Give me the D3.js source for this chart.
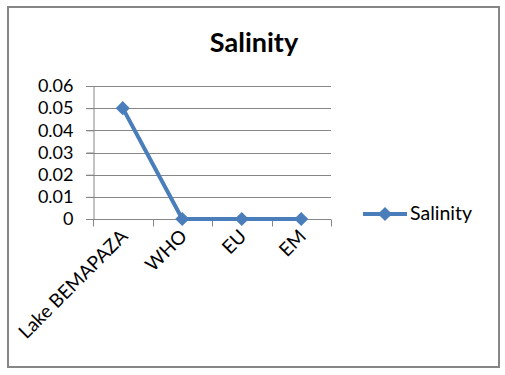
<!DOCTYPE html>
<html>
<head>
<meta charset="utf-8">
<script src="https://cdn.jsdelivr.net/npm/d3@7"></script>
<style>
  body { margin: 0; background: #fff; }
  text { font-family: Lato, "Open Sans", sans-serif; }
</style>
</head>
<body>
<div id="chart"></div>
<script>
// Data
const categories = ["Lake BEMAPAZA", "WHO", "EU", "EM"];
const salinity = [0.05, 0, 0, 0];
const yTicks = [0, 0.01, 0.02, 0.03, 0.04, 0.05, 0.06];
const seriesName = "Salinity";

const width = 505;
const height = 375;
const plot = { left: 93, right: 331, top: 86, bottom: 219 };
const blue = "#4a7ebb";
const gridColor = "#868686";

const svg = d3
  .select("#chart")
  .append("svg")
  .attr("width", width)
  .attr("height", height);

// Outer frame
svg.append("rect")
  .attr("x", 8).attr("y", 7)
  .attr("width", 491).attr("height", 360)
  .attr("fill", "#fff")
  .attr("stroke", "#868686")
  .attr("stroke-width", 2);

// Scales
const x = d3.scaleBand()
  .domain(categories)
  .range([plot.left, plot.right]);

const y = d3.scaleLinear()
  .domain([0, 0.06])
  .range([plot.bottom, plot.top]);

// Gridlines
svg.append("g")
  .selectAll("line")
  .data(yTicks)
  .enter()
  .append("line")
  .attr("x1", plot.left - 7)
  .attr("x2", plot.right)
  .attr("y1", (d) => Math.round(y(d)) + 0.5)
  .attr("y2", (d) => Math.round(y(d)) + 0.5)
  .attr("stroke", gridColor)
  .attr("stroke-width", 1);

// Y axis
const yAxis = svg.append("g")
  .attr("transform", `translate(${plot.left + 0.5},0)`)
  .call(d3.axisLeft(y).tickValues(yTicks).tickSize(7).tickPadding(13)
    .tickFormat((d) => (d === 0 ? "0" : d3.format(".2f")(d))));
yAxis.select(".domain").attr("stroke", gridColor);
yAxis.selectAll(".tick line").attr("stroke", gridColor);
yAxis.selectAll("text")
  .style("font-size", "18px")
  .attr("fill", "#000");

// X axis (ticks between categories)
const xAxis = svg.append("g")
  .attr("transform", `translate(0,${Math.round(plot.bottom) + 0.5})`);
xAxis.append("line")
  .attr("x1", plot.left).attr("x2", plot.right)
  .attr("stroke", gridColor);
xAxis.selectAll("line.tk")
  .data([...categories.map((c) => x(c)), plot.right])
  .enter()
  .append("line")
  .attr("class", "tk")
  .attr("x1", (d) => Math.round(d) + 0.5)
  .attr("x2", (d) => Math.round(d) + 0.5)
  .attr("y1", 0).attr("y2", 7)
  .attr("stroke", gridColor);
xAxis.selectAll("text")
  .data(categories)
  .enter()
  .append("text")
  .attr("transform", (d) => `translate(${x(d) + x.bandwidth() / 2 + 6},${18}) rotate(-45)`)
  .attr("text-anchor", "end")
  .style("font-size", "19px")
  .attr("fill", "#000")
  .text((d) => d);

// Line
const line = d3.line()
  .x((d, i) => x(categories[i]) + x.bandwidth() / 2)
  .y((d) => y(d));

svg.append("path")
  .datum(salinity)
  .attr("d", line)
  .attr("fill", "none")
  .attr("stroke", blue)
  .attr("stroke-width", 4)
  .attr("stroke-linejoin", "round");

const diamond = d3.symbol().type(d3.symbolSquare).size(100);
svg.append("g")
  .selectAll("path")
  .data(salinity)
  .enter()
  .append("path")
  .attr("d", diamond)
  .attr("transform", (d, i) =>
    `translate(${x(categories[i]) + x.bandwidth() / 2},${y(d)}) rotate(45)`)
  .attr("fill", blue);

// Title
svg.append("text")
  .attr("x", 254)
  .attr("y", 52)
  .attr("text-anchor", "middle")
  .style("font-size", "27px")
  .style("font-weight", "bold")
  .attr("fill", "#000")
  .text(seriesName);

// Legend
const legend = svg.append("g").attr("transform", "translate(363,214)");
legend.append("line")
  .attr("x1", 0).attr("x2", 44)
  .attr("stroke", blue)
  .attr("stroke-width", 4);
legend.append("path")
  .attr("d", diamond)
  .attr("transform", "translate(22,0) rotate(45)")
  .attr("fill", blue);
legend.append("text")
  .attr("x", 47)
  .attr("y", 6)
  .style("font-size", "19.5px")
  .attr("fill", "#000")
  .text(seriesName);
</script>
</body>
</html>
